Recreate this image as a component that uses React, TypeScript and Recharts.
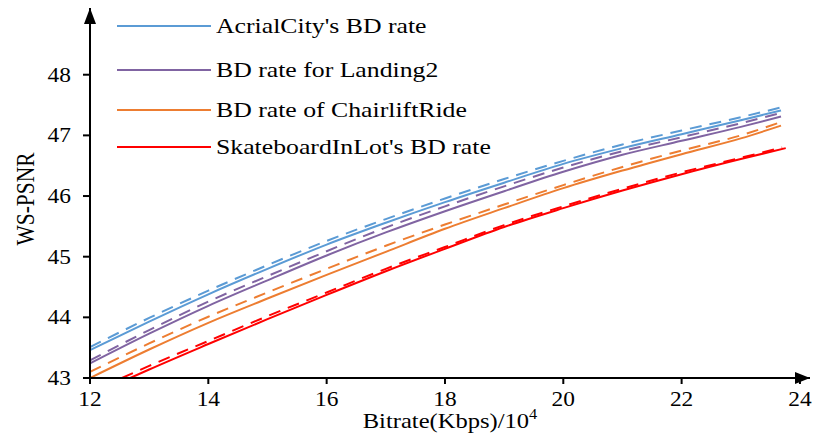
import React from "react";
import { LineChart, Line, XAxis, YAxis, Legend, ReferenceDot, Label } from "recharts";

// ---- data ----
const X_TICKS = [12, 14, 16, 18, 20, 22, 24];
const Y_TICKS = [43, 44, 45, 46, 47, 48];
const X_DOMAIN: [number, number] = [12, 24.17];
const Y_DOMAIN: [number, number] = [43, 49.1];

const commonX = [12, 13, 14, 15, 16, 17, 18, 19, 20, 21, 22, 23, 23.68];
const aerialSolid = [43.46, 43.93, 44.38, 44.8, 45.2, 45.56, 45.9, 46.22, 46.53, 46.79, 47.02, 47.25, 47.41];
const aerialDashed = [43.51, 43.99, 44.44, 44.86, 45.26, 45.62, 45.96, 46.28, 46.58, 46.85, 47.08, 47.3, 47.46];
const landingSolid = [43.24, 43.73, 44.19, 44.61, 45.02, 45.4, 45.75, 46.08, 46.4, 46.68, 46.91, 47.14, 47.31];
const landingDashed = [43.29, 43.79, 44.26, 44.68, 45.09, 45.48, 45.83, 46.16, 46.47, 46.74, 46.97, 47.2, 47.37];
const chairSolid = [43.0, 43.47, 43.91, 44.31, 44.7, 45.08, 45.46, 45.8, 46.13, 46.42, 46.69, 46.95, 47.16];
const chairDashed = [43.1, 43.57, 44.01, 44.41, 44.8, 45.18, 45.53, 45.86, 46.18, 46.48, 46.75, 47.0, 47.22];
const skateSolidX = [12.68, 13, 14, 15, 16, 17, 18, 19, 20, 21, 22, 23, 23.76];
const skateSolid = [43.0, 43.14, 43.56, 43.97, 44.37, 44.76, 45.13, 45.49, 45.8, 46.09, 46.36, 46.61, 46.79];
const skateDashedX = [12.54, 13, 14, 15, 16, 17, 18, 19, 20, 21, 22, 23, 23.7];
const skateDashed = [43.0, 43.2, 43.61, 44.02, 44.41, 44.8, 45.16, 45.52, 45.83, 46.12, 46.39, 46.63, 46.8];

const LEGEND_NAMES = [
  "AcrialCity's BD rate",
  "BD rate for Landing2",
  "BD rate of ChairliftRide",
  "SkateboardInLot's BD rate",
];
const COLORS = ["#5b9bd5", "#8064a2", "#ed7d31", "#ff0000"];

const zip = (xs: number[], ys: number[]) => xs.map((x, i) => ({ x, y: ys[i] }));

const series = [
  { key: "a-s", data: zip(commonX, aerialSolid), color: COLORS[0], dashed: false },
  { key: "a-d", data: zip(commonX, aerialDashed), color: COLORS[0], dashed: true },
  { key: "l-s", data: zip(commonX, landingSolid), color: COLORS[1], dashed: false },
  { key: "l-d", data: zip(commonX, landingDashed), color: COLORS[1], dashed: true },
  { key: "c-s", data: zip(commonX, chairSolid), color: COLORS[2], dashed: false },
  { key: "c-d", data: zip(commonX, chairDashed), color: COLORS[2], dashed: true },
  { key: "s-s", data: zip(skateSolidX, skateSolid), color: COLORS[3], dashed: false },
  { key: "s-d", data: zip(skateDashedX, skateDashed), color: COLORS[3], dashed: true },
];

const FONT = "'Liberation Serif', 'Times New Roman', serif";
const STRETCH = 1.17;
const LEGEND_GAPS = [0, 20, 16, 13];

const LegendContent = () => (
  <div style={{ fontFamily: FONT, fontSize: 22, color: "#000" }}>
    {LEGEND_NAMES.map((name, i) => (
      <div
        key={name}
        style={{ display: "flex", alignItems: "center", height: 24, marginTop: LEGEND_GAPS[i], whiteSpace: "nowrap" }}
      >
        <svg width={94} height={6} style={{ marginRight: 5 }}>
          <line x1={0} y1={3} x2={94} y2={3} stroke={COLORS[i]} strokeWidth={2} />
        </svg>
        <span style={{ display: "inline-block", transform: `scaleX(${STRETCH})`, transformOrigin: "left center" }}>
          {name}
        </span>
      </div>
    ))}
  </div>
);

const XTick = (props: any) => {
  const { x, y, payload } = props;
  return (
    <text
      transform={`translate(${x}, ${y}) scale(${STRETCH}, 1)`}
      x={0}
      y={0}
      dy="0.71em"
      textAnchor="middle"
      fontFamily={FONT}
      fontSize={20}
      fill="#000"
    >
      {payload.value}
    </text>
  );
};

const YTick = (props: any) => {
  const { x, y, payload } = props;
  return (
    <text
      transform={`translate(${x}, ${y}) scale(${STRETCH}, 1)`}
      x={0}
      y={0}
      dy="0.35em"
      textAnchor="end"
      fontFamily={FONT}
      fontSize={20}
      fill="#000"
    >
      {payload.value}
    </text>
  );
};

const XLabel = (props: any) => {
  const vb = props.viewBox || {};
  const cx = vb.x + vb.width / 2;
  const cy = vb.y + 50;
  return (
    <text
      transform={`translate(${cx}, ${cy}) scale(${STRETCH}, 1)`}
      x={0}
      y={0}
      textAnchor="middle"
      fontFamily={FONT}
      fontSize={21}
      fill="#000"
    >
      Bitrate(Kbps)/10
      <tspan dy={-9} fontSize={14}>4</tspan>
    </text>
  );
};

const YLabel = (props: any) => {
  const vb = props.viewBox || {};
  const cx = vb.x + 25;
  const cy = vb.y + vb.height / 2 + 6;
  return (
    <text
      transform={`translate(${cx}, ${cy}) scale(${STRETCH}, 1) rotate(-90)`}
      x={0}
      y={0}
      textAnchor="middle"
      dominantBaseline="central"
      fontFamily={FONT}
      fontSize={21.5}
      fill="#000"
    >
      WS-PSNR
    </text>
  );
};

const RightArrow = (p: any) => (
  <polygon points={`${p.cx},${p.cy} ${p.cx - 15},${p.cy - 6} ${p.cx - 15},${p.cy + 6}`} fill="#000" />
);
const UpArrow = (p: any) => (
  <polygon points={`${p.cx},${p.cy} ${p.cx - 6},${p.cy + 16} ${p.cx + 6},${p.cy + 16}`} fill="#000" />
);

export default function App() {
  return (
    <div style={{ position: "absolute", left: 0, top: 0, background: "#fff" }}>
      <LineChart width={830} height={435} margin={{ top: 8, right: 20, bottom: 0, left: 0 }}>
        <XAxis
          type="number"
          dataKey="x"
          domain={X_DOMAIN}
          ticks={X_TICKS}
          allowDataOverflow
          height={57}
          tickSize={6}
          tickMargin={8}
          axisLine={{ stroke: "#000", strokeWidth: 2 }}
          tickLine={{ stroke: "#000", strokeWidth: 2 }}
          tick={<XTick />}
        >
          <Label content={<XLabel />} />
        </XAxis>
        <YAxis
          type="number"
          dataKey="y"
          domain={Y_DOMAIN}
          ticks={Y_TICKS}
          allowDataOverflow
          width={90}
          tickSize={7}
          tickMargin={12}
          axisLine={{ stroke: "#000", strokeWidth: 2 }}
          tickLine={{ stroke: "#000", strokeWidth: 2 }}
          tick={<YTick />}
        >
          <Label content={<YLabel />} />
        </YAxis>
        <Legend
          layout="vertical"
          align="center"
          verticalAlign="middle"
          content={<LegendContent />}
          wrapperStyle={{ position: "absolute", left: 117, top: 14, width: "auto", height: "auto" }}
        />
        {series.map((s) => (
          <Line
            key={s.key}
            data={s.data}
            dataKey="y"
            type="monotone"
            stroke={s.color}
            strokeWidth={2}
            strokeDasharray={s.dashed ? "12 8" : undefined}
            dot={false}
            activeDot={false}
            legendType="none"
            isAnimationActive={false}
          />
        ))}
        <ReferenceDot x={X_DOMAIN[1]} y={Y_DOMAIN[0]} r={0} shape={<RightArrow />} ifOverflow="visible" />
        <ReferenceDot x={X_DOMAIN[0]} y={Y_DOMAIN[1]} r={0} shape={<UpArrow />} ifOverflow="visible" />
      </LineChart>
    </div>
  );
}
